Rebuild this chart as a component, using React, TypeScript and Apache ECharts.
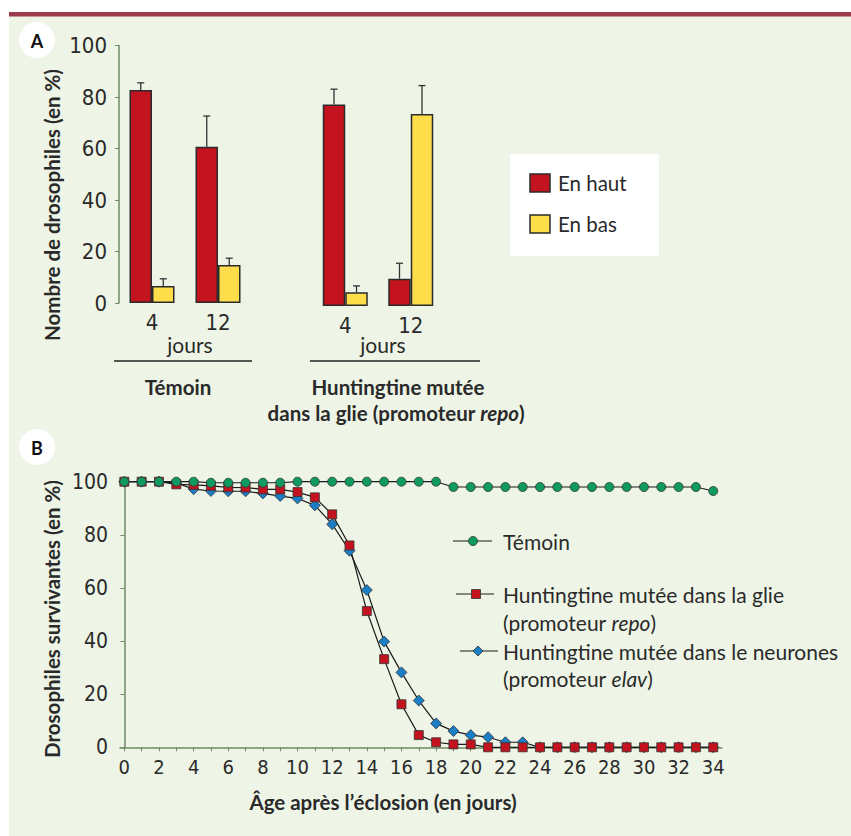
import React, { useEffect, useRef } from "react";
import * as echarts from "echarts";

// ---------- Panel A data ----------
const barCategories = ["4", "12"];
const temoinHaut = [82.7, 60.7];
const temoinHautErr = [2.8, 11.9];
const temoinBas = [6.6, 14.8];
const temoinBasErr = [2.8, 2.6];
const huntHaut = [78.3, 10.6];
const huntHautErr = [5.9, 6.0];
const huntBas = [5.3, 74.6];
const huntBasErr = [2.5, 11.0];

// ---------- Panel B data ----------
const days = [0, 1, 2, 3, 4, 5, 6, 7, 8, 9, 10, 11, 12, 13, 14, 15, 16, 17, 18, 19, 20, 21, 22, 23, 24, 25, 26, 27, 28, 29, 30, 31, 32, 33, 34];
const temoinSurvie = [100, 100, 100, 100, 100, 99.6, 99.6, 99.6, 99.6, 99.6, 100, 100, 100, 100, 100, 100, 100, 100, 100, 98, 98, 98, 98, 98, 98, 98, 98, 98, 98, 98, 98, 98, 98, 98, 96.5];
const glieSurvie = [100, 100, 100, 99, 98.8, 98.4, 97.9, 97.8, 97.1, 97.1, 96.1, 94.1, 87.7, 76, 51.3, 33.2, 16.2, 4.6, 1.9, 1.1, 1.1, 0, 0, 0, 0, 0, 0, 0, 0, 0, 0, 0, 0, 0, 0];
const neuronesSurvie = [100, 100, 100, 99.5, 97.2, 96.5, 96.4, 96.4, 95.6, 94.6, 93.7, 91.1, 84, 74, 59.2, 39.8, 28.2, 17.6, 9, 6.1, 4.6, 3.8, 1.9, 1.9, 0, 0, 0, 0, 0, 0, 0, 0, 0, 0, 0];
const xTickDays = days;
const xLabelDays = [0, 2, 4, 6, 8, 10, 12, 14, 16, 18, 20, 22, 24, 26, 28, 30, 32, 34];

const RED = "#c3131e";
const YELLOW = "#fedd4b";
const GREEN = "#0f9a5f";
const BLUE = "#1b7dc3";
const BORDER = "#2b2b2b";
const TXT = "#2a2a2a";
const AXIS = "#6d8a63";
const BG = "#eef5e7";
const NUM_FONT = '"Liberation Sans Narrow", "DejaVu Sans Condensed", "Liberation Sans", sans-serif';
const TXT_FONT = 'Lato, "Liberation Sans", sans-serif';

function errSeries(name: string, values: number[], errs: number[], axis: number, offset: number) {
  return {
    name,
    type: "custom",
    xAxisIndex: axis,
    yAxisIndex: axis,
    encode: { x: 0, y: 1 },
    data: values.map((v, i) => [i, v, errs[i]]),
    z: 3,
    renderItem: (_p: any, api: any) => {
      const base = api.coord([api.value(0), api.value(1)]);
      const top = api.coord([api.value(0), api.value(1) + api.value(2)]);
      const x = base[0] + offset;
      const st = { stroke: "#333", lineWidth: 1.3 };
      return {
        type: "group",
        children: [
          { type: "line", shape: { x1: x, y1: base[1], x2: x, y2: top[1] }, style: st },
          { type: "line", shape: { x1: x - 3.5, y1: top[1], x2: x + 3.5, y2: top[1] }, style: st },
        ],
      };
    },
  };
}

function barSeries(name: string, values: number[], axis: number, color: string) {
  return {
    name,
    type: "bar",
    xAxisIndex: axis,
    yAxisIndex: axis,
    data: values,
    barWidth: 22.5,
    barGap: "0%",
    itemStyle: { color, borderColor: BORDER, borderWidth: 1.5 },
    z: 2,
  };
}

function lineSeries(name: string, values: number[], color: string, symbol: string, size: number) {
  return {
    name,
    type: "line",
    xAxisIndex: 2,
    yAxisIndex: 2,
    data: days.map((d, i) => [d, values[i]]),
    symbol,
    symbolSize: size,
    showSymbol: true,
    lineStyle: { color: "#1a1a1a", width: 1.2 },
    itemStyle: { color, borderColor: "#333", borderWidth: 0.8 },
  };
}

export default function App() {
  const ref = useRef<HTMLDivElement>(null);
  useEffect(() => {
    if (!ref.current) return;
    const chart = echarts.init(ref.current, undefined, { renderer: "svg" });
    const catAxis = (grid: number) => ({
      type: "category",
      gridIndex: grid,
      data: barCategories,
      axisLine: { show: false },
      axisTick: { show: false },
      axisLabel: { fontSize: 22, color: TXT, fontFamily: NUM_FONT, margin: 8 },
    });
    const boldText = (text: string, x: number, y: number, rot = 0) => ({
      type: "text", x, y, rotation: rot,
      style: { text, fontSize: 20.5, fontWeight: "bold", fill: TXT, fontFamily: TXT_FONT, align: "center", verticalAlign: "middle" },
    });
    const option: any = {
      animation: false,
      backgroundColor: "#ffffff",
      grid: [
        { left: 119, top: 45.5, width: 132, height: 257.5 },
        { left: 312.5, top: 48.5, width: 131, height: 257.5 },
        { left: 120, top: 481.7, width: 601.9, height: 265.6 },
      ],
      xAxis: [
        catAxis(0),
        catAxis(1),
        {
          type: "value",
          gridIndex: 2,
          min: -0.25,
          max: 34.5,
          axisLine: { show: true, lineStyle: { color: AXIS, width: 1.5 } },
          axisTick: { show: true, length: 4, customValues: xTickDays, lineStyle: { color: AXIS } },
          axisLabel: { customValues: xLabelDays, fontSize: 20, color: TXT, fontFamily: NUM_FONT, margin: 10 },
          splitLine: { show: false },
        },
      ],
      yAxis: [
        {
          type: "value",
          gridIndex: 0,
          min: 0,
          max: 100,
          interval: 20,
          axisLine: { show: true, lineStyle: { color: AXIS, width: 1.5 } },
          axisTick: { show: true, length: 4, lineStyle: { color: AXIS } },
          axisLabel: { fontSize: 22, color: TXT, fontFamily: NUM_FONT, margin: 12 },
          splitLine: { show: false },
        },
        { type: "value", gridIndex: 1, min: 0, max: 100, show: false },
        {
          type: "value",
          gridIndex: 2,
          min: 0,
          max: 100,
          interval: 20,
          axisLine: { show: true, lineStyle: { color: AXIS, width: 1.5 } },
          axisTick: { show: true, length: 4, lineStyle: { color: AXIS } },
          axisLabel: { fontSize: 21, color: TXT, fontFamily: NUM_FONT, margin: 12 },
          splitLine: { show: false },
        },
      ],
      series: [
        barSeries("En haut", temoinHaut, 0, RED),
        barSeries("En bas", temoinBas, 0, YELLOW),
        barSeries("En haut", huntHaut, 1, RED),
        barSeries("En bas", huntBas, 1, YELLOW),
        errSeries("err1", temoinHaut, temoinHautErr, 0, -11.25),
        errSeries("err2", temoinBas, temoinBasErr, 0, 11.25),
        errSeries("err3", huntHaut, huntHautErr, 1, -11.25),
        errSeries("err4", huntBas, huntBasErr, 1, 11.25),
        lineSeries("Huntingtine mutée dans le neurones", neuronesSurvie, BLUE, "diamond", 11),
        lineSeries("Huntingtine mutée dans la glie", glieSurvie, RED, "rect", 9),
        lineSeries("Témoin", temoinSurvie, GREEN, "circle", 9),
      ],
      graphic: [
        { type: "rect", z: -10, silent: true, shape: { x: 9, y: 16, width: 842, height: 820 }, style: { fill: BG } },
        { type: "rect", z: -10, silent: true, shape: { x: 9, y: 12, width: 842, height: 4.5 }, style: { fill: "#9c3b4b" } },
        // panel labels
        { type: "circle", shape: { cx: 37, cy: 40, r: 18 }, style: { fill: "#fff" } },
        { type: "text", x: 37, y: 41, style: { text: "A", fontSize: 18, fontWeight: "bold", fill: "#111", fontFamily: TXT_FONT, align: "center", verticalAlign: "middle" } },
        { type: "circle", shape: { cx: 37, cy: 447, r: 18 }, style: { fill: "#fff" } },
        { type: "text", x: 37, y: 448, style: { text: "B", fontSize: 18, fontWeight: "bold", fill: "#111", fontFamily: TXT_FONT, align: "center", verticalAlign: "middle" } },
        // y axis titles
        boldText("Nombre de drosophiles (en %)", 52, 205, Math.PI / 2),
        boldText("Drosophiles survivantes (en %)", 52, 619, Math.PI / 2),
        // panel A group annotations
        { type: "text", x: 190, y: 344, style: { text: "jours", fontSize: 21, fill: TXT, fontFamily: TXT_FONT, align: "center", verticalAlign: "middle" } },
        { type: "text", x: 383, y: 344, style: { text: "jours", fontSize: 21, fill: TXT, fontFamily: TXT_FONT, align: "center", verticalAlign: "middle" } },
        { type: "line", shape: { x1: 114, y1: 361, x2: 252, y2: 361 }, style: { stroke: "#222", lineWidth: 1.5 } },
        { type: "line", shape: { x1: 310, y1: 361, x2: 480, y2: 361 }, style: { stroke: "#222", lineWidth: 1.5 } },
        boldText("Témoin", 178, 387),
        boldText("Huntingtine mutée", 398, 387),
        {
          type: "text", x: 396, y: 413,
          style: {
            text: "{b|dans la glie (promoteur }{bi|repo}{b|)}",
            align: "center", verticalAlign: "middle",
            rich: {
              b: { fontSize: 20.5, fontWeight: "bold", fill: TXT, fontFamily: TXT_FONT },
              bi: { fontSize: 20.5, fontWeight: "bold", fontStyle: "italic", fill: TXT, fontFamily: TXT_FONT },
            },
          },
        },
        // legend A
        { type: "rect", shape: { x: 510, y: 154, width: 149, height: 102 }, style: { fill: "#ffffff" } },
        { type: "rect", shape: { x: 530, y: 174, width: 20, height: 18 }, style: { fill: RED, stroke: BORDER, lineWidth: 1.5 } },
        { type: "text", x: 558, y: 183, style: { text: "En haut", fontSize: 20.5, fill: TXT, fontFamily: TXT_FONT, verticalAlign: "middle" } },
        { type: "rect", shape: { x: 530, y: 215, width: 20, height: 18 }, style: { fill: YELLOW, stroke: BORDER, lineWidth: 1.5 } },
        { type: "text", x: 558, y: 224, style: { text: "En bas", fontSize: 20.5, fill: TXT, fontFamily: TXT_FONT, verticalAlign: "middle" } },
        // legend B
        { type: "line", shape: { x1: 453, y1: 541, x2: 492, y2: 541 }, style: { stroke: "#1a1a1a", lineWidth: 1.2 } },
        { type: "circle", shape: { cx: 473, cy: 541, r: 4.5 }, style: { fill: GREEN, stroke: "#333", lineWidth: 0.8 } },
        { type: "text", x: 503, y: 541, style: { text: "Témoin", fontSize: 21, fill: TXT, fontFamily: TXT_FONT, verticalAlign: "middle" } },
        { type: "line", shape: { x1: 456, y1: 594, x2: 494, y2: 594 }, style: { stroke: "#1a1a1a", lineWidth: 1.2 } },
        { type: "rect", shape: { x: 471.5, y: 589.5, width: 9, height: 9 }, style: { fill: RED, stroke: "#333", lineWidth: 0.8 } },
        { type: "text", x: 503, y: 594, style: { text: "Huntingtine mutée dans la glie", fontSize: 21, fill: TXT, fontFamily: TXT_FONT, verticalAlign: "middle" } },
        {
          type: "text", x: 503, y: 622,
          style: {
            text: "{n|(promoteur }{i|repo}{n|)}", verticalAlign: "middle",
            rich: {
              n: { fontSize: 21, fill: TXT, fontFamily: TXT_FONT },
              i: { fontSize: 21, fontStyle: "italic", fill: TXT, fontFamily: TXT_FONT },
            },
          },
        },
        { type: "line", shape: { x1: 460, y1: 651, x2: 498, y2: 651 }, style: { stroke: "#1a1a1a", lineWidth: 1.2 } },
        { type: "polygon", shape: { points: [[478, 646], [483, 651], [478, 656], [473, 651]] }, style: { fill: BLUE, stroke: "#333", lineWidth: 0.8 } },
        { type: "text", x: 503, y: 651, style: { text: "Huntingtine mutée dans le neurones", fontSize: 21, fill: TXT, fontFamily: TXT_FONT, verticalAlign: "middle" } },
        {
          type: "text", x: 503, y: 678,
          style: {
            text: "{n|(promoteur }{i|elav}{n|)}", verticalAlign: "middle",
            rich: {
              n: { fontSize: 21, fill: TXT, fontFamily: TXT_FONT },
              i: { fontSize: 21, fontStyle: "italic", fill: TXT, fontFamily: TXT_FONT },
            },
          },
        },
        // x axis title B
        boldText("Âge après l’éclosion (en jours)", 383, 802),
      ],
    };
    chart.setOption(option);
    return () => chart.dispose();
  }, []);
  return <div ref={ref} style={{ position: "fixed", left: 0, top: 0, width: 851, height: 836 }} />;
}
